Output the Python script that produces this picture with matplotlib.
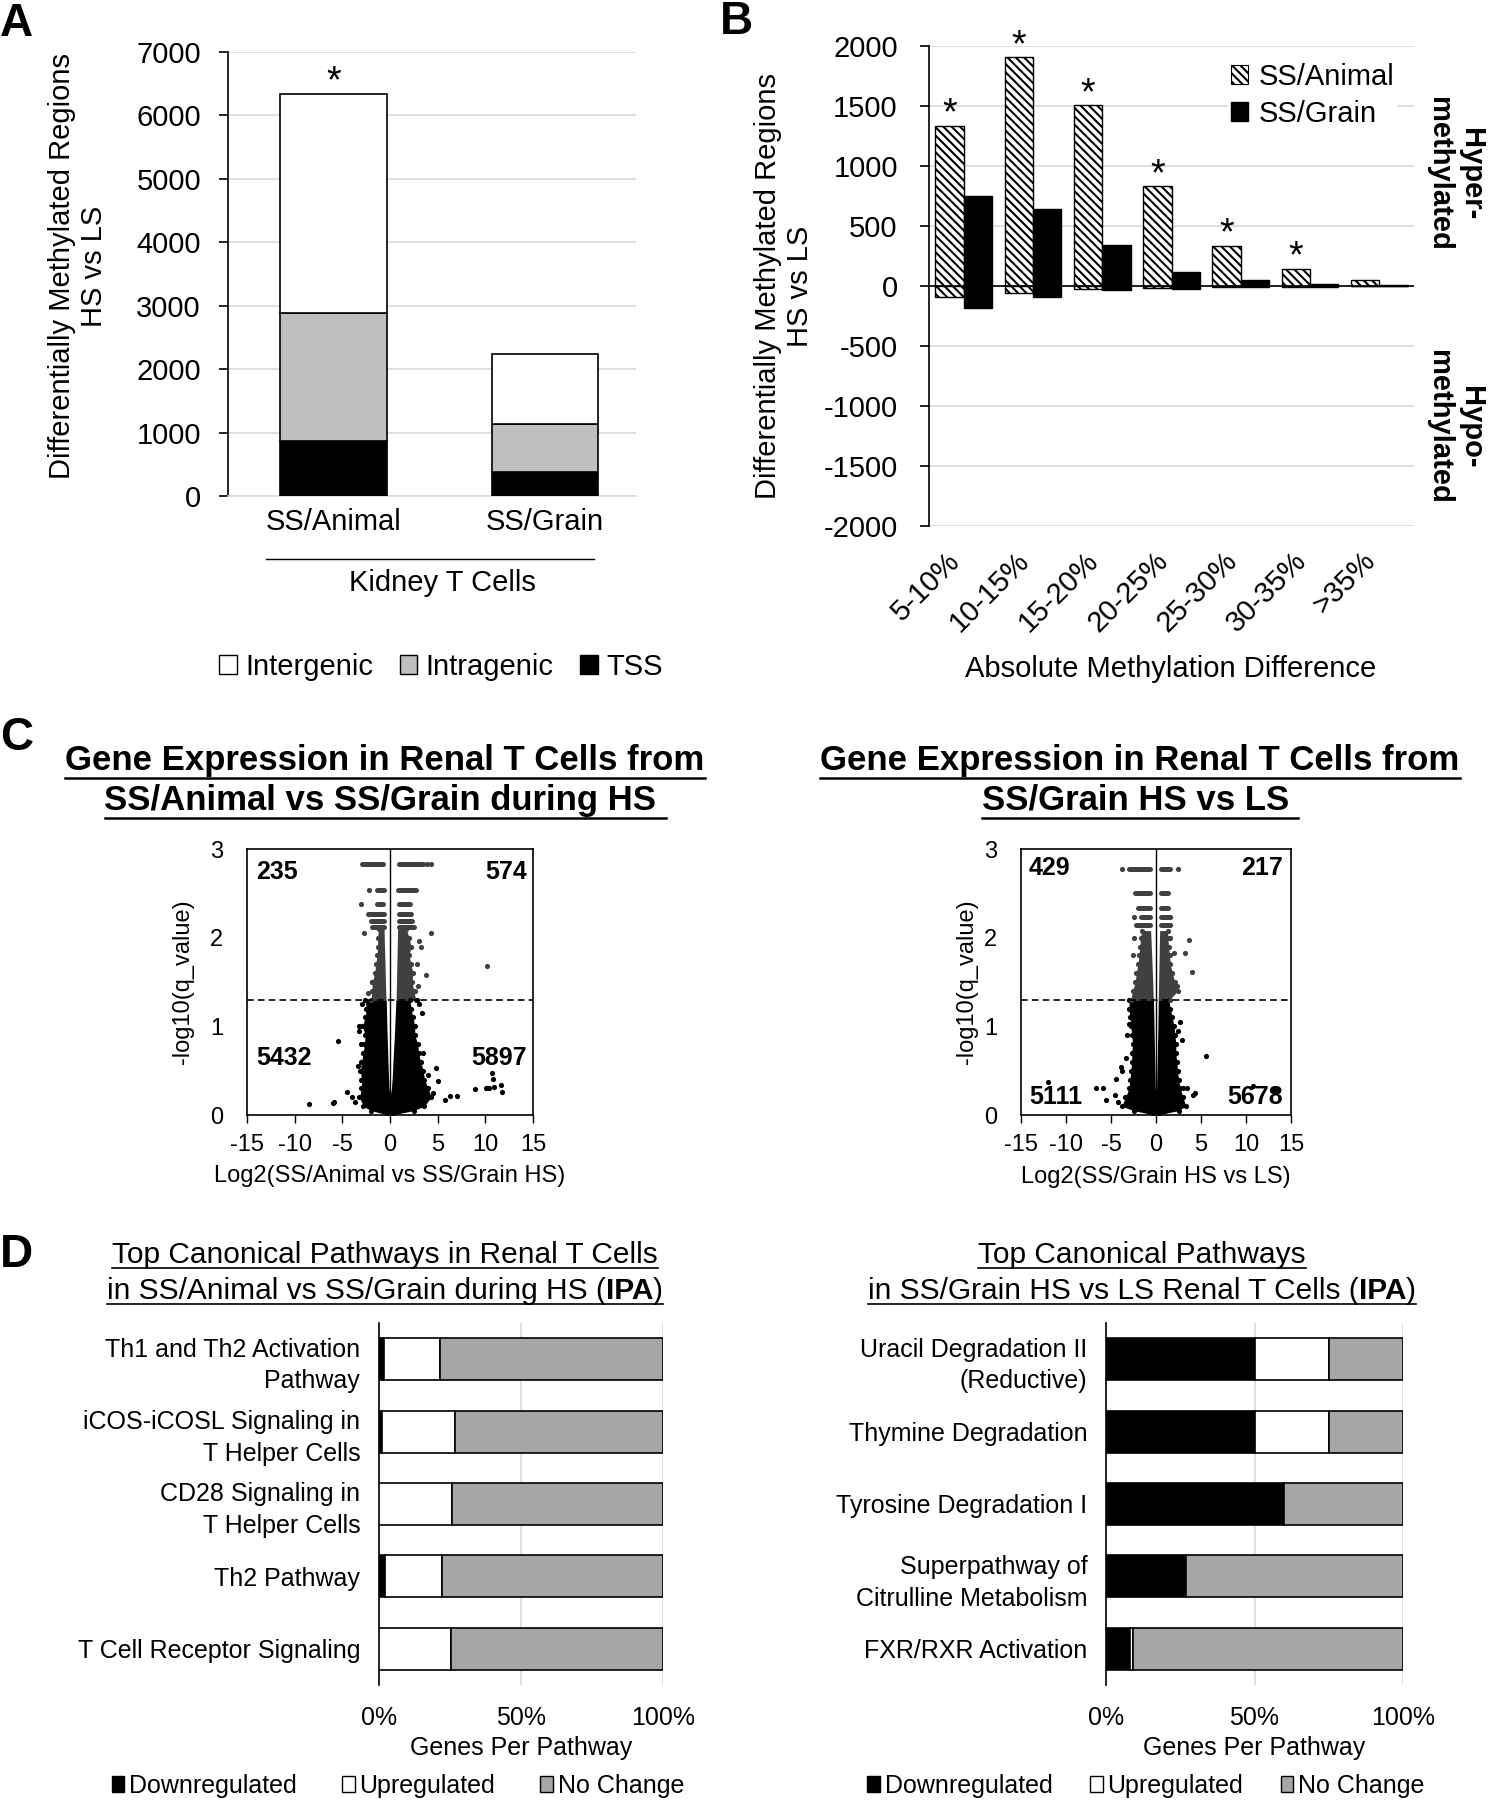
import matplotlib
matplotlib.use('Agg')
import matplotlib.pyplot as plt
from matplotlib.patches import Patch
from matplotlib.lines import Line2D
from matplotlib.transforms import ScaledTranslation
import numpy as np

plt.rcParams['font.family'] = ['Liberation Sans', 'DejaVu Sans']
plt.rcParams['axes.unicode_minus'] = False
plt.rcParams['hatch.linewidth'] = 1.5

# ---------------- data ----------------
# Panel A
a_groups = ['SS/Animal', 'SS/Grain']
a_tss = [860, 380]
a_intragenic = [2020, 750]
a_intergenic = [3465, 1105]
a_sig = [True, False]
a_legend = ['Intergenic', 'Intragenic', 'TSS']

# Panel B
b_bins = ['5-10%', '10-15%', '15-20%', '20-25%', '25-30%', '30-35%', '>35%']
b_animal_hyper = [1337, 1908, 1506, 833, 337, 143, 46]
b_animal_hypo = [-95, -60, -22, -19, -8, -5, -3]
b_grain_hyper = [746, 644, 344, 117, 47, 20, 6]
b_grain_hypo = [-183, -89, -36, -25, -11, -7, -3]
b_sig = [True, True, True, True, True, True, False]

# Panel C, volcano 1 (SS/Animal vs SS/Grain HS)
v1_counts = ['235', '574', '5432', '5897']
v1_black_y = [0.0, 0.05, 0.1, 0.2, 0.3, 0.4, 0.5, 0.6, 0.7, 0.8, 0.9, 1.0, 1.1, 1.2, 1.3]
v1_black_left = [-0.2, -2.0, -2.8, -3.2, -3.0, -3.0, -3.1, -3.0, -2.8, -2.7, -2.6, -2.9, -2.6, -2.5, -2.6]
v1_black_linner = [0.0, 0.0, 0.0, 0.0, -0.1, -0.15, -0.18, -0.21, -0.24, -0.27, -0.3, -0.33, -0.35, -0.37, -0.4]
v1_black_rinner = [0.0, 0.0, 0.0, 0.0, 0.15, 0.22, 0.27, 0.31, 0.36, 0.41, 0.46, 0.5, 0.54, 0.58, 0.62]
v1_black_right = [0.2, 2.5, 3.6, 4.3, 4.0, 3.6, 3.5, 3.2, 3.0, 2.9, 2.6, 2.6, 2.4, 2.2, 2.1]
v1_gray_y = [1.3, 1.4, 1.5, 1.6, 1.7, 1.8, 1.9, 2.0, 2.1]
v1_gray_left = [-2.0, -1.9, -1.85, -1.6, -1.5, -1.35, -1.3, -1.3, -1.2]
v1_gray_linner = [-0.42, -0.45, -0.48, -0.5, -0.52, -0.55, -0.58, -0.6, -0.62]
v1_gray_rinner = [0.64, 0.66, 0.68, 0.7, 0.72, 0.74, 0.76, 0.78, 0.8]
v1_gray_right = [2.7, 2.5, 2.3, 2.4, 2.2, 2.0, 2.2, 2.0, 1.7]
v1_rows_y = [2.83, 2.83, 2.54, 2.54, 2.38, 2.38, 2.27, 2.27, 2.19, 2.19, 2.12, 2.12]
v1_rows_x0 = [-2.9, 0.9, -1.35, 0.85, -1.4, 0.9, -2.3, 0.9, -2.0, 0.9, -1.9, 0.9]
v1_rows_x1 = [-0.75, 3.2, -0.65, 2.7, -0.7, 2.1, -0.65, 2.2, -0.65, 2.3, -0.65, 2.5]
v1_gray_px = [3.5, 3.9, 4.25, -2.2, -3.08, -2.7, 3.0, 4.27, 3.74, 2.97, 10.2, 3.2, -1.9, -2.3, 2.8, 2.6]
v1_gray_py = [2.83, 2.83, 2.83, 2.54, 2.38, 2.05, 1.96, 2.05, 1.58, 1.46, 1.68, 1.9, 1.5, 1.38, 1.7, 1.4]
v1_black_px = [-5.5, -8.5, -5.9, -6.0, -4.5, -3.7, -3.3, -3.0, -3.4, -4.0, 4.8, 5.0, 5.8, 6.3, 7.0, 8.9,
               10.1, 10.7, 10.8, 10.9, 11.6, 11.8, 10.4, 3.4, 3.0, 4.0, 4.5, -2.9, -3.2, 3.5, 2.8]
v1_black_py = [0.84, 0.12, 0.15, 0.13, 0.26, 0.15, 0.95, 0.8, 0.55, 0.2, 0.53, 0.38, 0.17, 0.21, 0.21, 0.29,
               0.31, 0.47, 0.41, 0.32, 0.34, 0.26, 0.30, 1.15, 1.25, 0.45, 0.25, 1.25, 1.0, 0.7, 1.3]

# Panel C, volcano 2 (SS/Grain HS vs LS)
v2_counts = ['429', '217', '5111', '5678']
v2_black_y = [0.0, 0.05, 0.1, 0.2, 0.3, 0.4, 0.5, 0.6, 0.7, 0.8, 0.9, 1.0, 1.1, 1.2, 1.3]
v2_black_left = [-0.2, -2.5, -3.8, -3.4, -3.0, -2.9, -2.8, -2.7, -2.7, -2.6, -2.7, -2.8, -2.9, -3.0, -3.0]
v2_black_linner = [0.0, 0.0, 0.0, 0.0, -0.08, -0.1, -0.12, -0.14, -0.16, -0.18, -0.2, -0.22, -0.24, -0.26, -0.28]
v2_black_rinner = [0.0, 0.0, 0.0, 0.0, 0.07, 0.09, 0.11, 0.13, 0.15, 0.17, 0.19, 0.21, 0.22, 0.24, 0.25]
v2_black_right = [0.2, 2.5, 3.3, 3.0, 2.7, 2.5, 2.4, 2.3, 2.2, 2.2, 2.1, 2.0, 1.8, 1.6, 1.4]
v2_gray_y = [1.3, 1.4, 1.5, 1.6, 1.7, 1.8, 1.9, 2.0, 2.08]
v2_gray_left = [-2.8, -2.6, -2.3, -2.2, -2.0, -1.9, -1.8, -1.7, -1.6]
v2_gray_linner = [-0.3, -0.33, -0.36, -0.4, -0.44, -0.48, -0.52, -0.56, -0.6]
v2_gray_rinner = [0.25, 0.27, 0.29, 0.31, 0.33, 0.35, 0.37, 0.39, 0.4]
v2_gray_right = [1.5, 2.4, 2.1, 1.8, 1.6, 1.5, 1.4, 1.3, 1.3]
v2_rows_y = [2.77, 2.77, 2.50, 2.50, 2.33, 2.33, 2.23, 2.23, 2.14, 2.14]
v2_rows_x0 = [-2.96, 0.56, -2.3, 0.56, -2.0, 0.56, -1.67, 0.56, -2.2, 0.56]
v2_rows_x1 = [-0.67, 1.56, -0.67, 1.3, -0.67, 1.3, -0.67, 1.3, -0.67, 1.3]
v2_gray_px = [-3.8, 2.4, -2.4, 1.55, 1.55, 3.7, 3.26, 2.04, 3.96, 2.3, -2.6, -2.5, 1.6]
v2_gray_py = [2.77, 2.77, 2.23, 2.23, 2.14, 1.97, 1.83, 1.83, 1.61, 1.45, 1.8, 2.0, 2.0]
v2_black_px = [-12.0, -6.7, -5.85, -5.55, -4.6, -4.45, -3.9, -3.75, -3.3, -3.2, -3.0, -4.2, 5.56, 10.8,
               13.2, 4.3, 4.1, 3.4, 2.4, 2.9, 2.7, 3.0]
v2_black_py = [0.37, 0.30, 0.30, 0.17, 0.22, 0.41, 0.54, 0.5, 0.64, 0.9, 1.03, 0.15, 0.67, 0.33,
               0.28, 0.25, 0.22, 0.3, 0.95, 0.85, 1.05, 0.3]

# Panel D
d1_pathways = ['Th1 and Th2 Activation\nPathway', 'iCOS-iCOSL Signaling in\nT Helper Cells',
               'CD28 Signaling in\nT Helper Cells', 'Th2 Pathway', 'T Cell Receptor Signaling']
d1_down = [1.9, 0.9, 0.0, 2.1, 0.0]
d1_up = [19.7, 25.9, 25.6, 20.0, 25.3]
d1_nochange = [78.4, 73.2, 74.4, 77.9, 74.7]
d2_pathways = ['Uracil Degradation II\n(Reductive)', 'Thymine Degradation', 'Tyrosine Degradation I',
               'Superpathway of\nCitrulline Metabolism', 'FXR/RXR Activation']
d2_down = [50.0, 50.0, 60.0, 27.0, 8.2]
d2_up = [25.0, 25.0, 0.0, 0.0, 0.8]
d2_nochange = [25.0, 25.0, 40.0, 73.0, 91.0]
d_legend = ['Downregulated', 'Upregulated', 'No Change']
d_xticks = [0, 50, 100]
d_xticklabels = ['0%', '50%', '100%']

# ---------------- figure ----------------
W, H = 1491, 1800
fig = plt.figure(figsize=(W / 100, H / 100), dpi=100)
GRID = '#d9d9d9'
GRAYPT = '#404040'


def fx(px):
    return px / W


def fy(py):
    return 1 - py / H


def axes_px(x0, y0, x1, y1):
    return fig.add_axes([fx(x0), fy(y1), (x1 - x0) / W, (y1 - y0) / H])


def hline_px(x0, x1, y, lw=1.0):
    fig.add_artist(Line2D([fx(x0), fx(x1)], [fy(y), fy(y)], transform=fig.transFigure,
                          color='black', lw=lw))


def centered_runs(xc, y_base, runs, size, ul_off, ul_lw, extra_right=0.0):
    r = fig.canvas.get_renderer()
    texts, widths = [], []
    for s, wgt in runs:
        t = fig.text(0, fy(y_base), s, fontsize=size, fontweight=wgt, ha='left', va='baseline')
        texts.append(t)
        widths.append(t.get_window_extent(renderer=r).width)
    total = sum(widths)
    x = xc - (total + extra_right) / 2
    x_start = x
    for t, w in zip(texts, widths):
        t.set_x(fx(x))
        x += w
    hline_px(x_start, x + extra_right, y_base + ul_off, lw=ul_lw)


# ---------------- Panel A ----------------
axA = axes_px(228, 52, 636, 496)
xa = np.arange(len(a_groups))
bw = 0.505
tss = np.array(a_tss)
intra = np.array(a_intragenic)
inter = np.array(a_intergenic)
axA.bar(xa, tss, bw, color='black', edgecolor='black', lw=1.2, zorder=3)
axA.bar(xa, intra, bw, bottom=tss, color='#bfbfbf', edgecolor='black', lw=1.2, zorder=3)
axA.bar(xa, inter, bw, bottom=tss + intra, color='white', edgecolor='black', lw=1.2, zorder=3)
axA.set_xlim(-0.5, 1.43)
axA.set_ylim(0, 7000)
axA.set_yticks(np.arange(0, 7001, 1000))
axA.yaxis.grid(True, color=GRID, lw=1.2, zorder=0)
axA.set_axisbelow(True)
for s in ['top', 'right']:
    axA.spines[s].set_visible(False)
axA.spines['bottom'].set_color(GRID)
axA.spines['bottom'].set_linewidth(1.2)
axA.spines['left'].set_linewidth(1.2)
axA.set_xticks(xa)
axA.set_xticklabels(a_groups)
axA.tick_params(axis='x', length=0, pad=9, labelsize=21)
axA.tick_params(axis='y', length=6.5, width=1.2, pad=13, labelsize=21)
totals = tss + intra + inter
for i, sig in enumerate(a_sig):
    if sig:
        axA.text(xa[i], totals[i] + 20, '*', ha='center', va='baseline', fontsize=27)
axA.set_ylabel('Differentially Methylated Regions\nHS vs LS', fontsize=21, va='center', ha='center')
axA.yaxis.set_label_coords(-0.368, 0.518)
hline_px(266, 594, 559, lw=1.0)
fig.text(fx(442), fy(583), 'Kidney T Cells', fontsize=21, ha='center', va='center')
fig.legend(handles=[Patch(fc='white', ec='black', lw=1), Patch(fc='#bfbfbf', ec='black', lw=1),
                    Patch(fc='black', ec='black', lw=1)],
           labels=a_legend, loc='center', bbox_to_anchor=(fx(441), fy(667)), ncol=3, frameon=False,
           fontsize=21, handlelength=0.6, handleheight=0.6, handletextpad=0.3, columnspacing=0.9)

# ---------------- Panel B ----------------
axB = axes_px(929, 46, 1414, 526)
xb = np.arange(len(b_bins))
bwb = 0.41
HATCH = '\\\\\\\\'
axB.bar(xb - bwb / 2, b_animal_hyper, bwb, color='white', edgecolor='black', hatch=HATCH, lw=1.0, zorder=3)
axB.bar(xb - bwb / 2, b_animal_hypo, bwb, color='white', edgecolor='black', hatch=HATCH, lw=1.0, zorder=3)
axB.bar(xb + bwb / 2, b_grain_hyper, bwb, color='black', edgecolor='black', lw=1.0, zorder=3)
axB.bar(xb + bwb / 2, b_grain_hypo, bwb, color='black', edgecolor='black', lw=1.0, zorder=3)
axB.axhline(0, color='black', lw=1.2, zorder=4)
axB.set_xlim(-0.5, len(b_bins) - 0.5)
axB.set_ylim(-2000, 2000)
axB.set_yticks(np.arange(-2000, 2001, 500))
axB.yaxis.grid(True, color=GRID, lw=1.2, zorder=0)
axB.set_axisbelow(True)
for s in ['top', 'right', 'bottom']:
    axB.spines[s].set_visible(False)
axB.spines['left'].set_linewidth(1.2)
axB.tick_params(axis='y', length=6.5, width=1.2, pad=16, labelsize=21)
axB.set_xticks(xb)
axB.set_xticklabels(b_bins, rotation=45, ha='right', va='center', rotation_mode='anchor')
axB.tick_params(axis='x', length=0, pad=22, labelsize=21)
for lbl in axB.get_xticklabels():
    lbl.set_transform(lbl.get_transform() + ScaledTranslation(-8 / 100, 0, fig.dpi_scale_trans))
for i, sig in enumerate(b_sig):
    if sig:
        axB.text(xb[i] - bwb / 2, b_animal_hyper[i] + 10, '*', ha='center', va='baseline', fontsize=27)
axB.set_ylabel('Differentially Methylated Regions\nHS vs LS', fontsize=21, va='center', ha='center')
axB.yaxis.set_label_coords(-0.299, 0.5)
axB.set_xlabel('Absolute Methylation Difference', fontsize=21, va='center')
axB.xaxis.set_label_coords(0.499, -0.298)
legB = axB.legend(handles=[Patch(fc='white', ec='black', hatch=HATCH, lw=0.8), Patch(fc='black', ec='black')],
                  labels=['SS/Animal', 'SS/Grain'], loc='upper left',
                  bbox_to_anchor=((1228 - 929) / 485, (526 - 60) / 480), fontsize=21,
                  handlelength=0.6, handleheight=0.6, handletextpad=0.35, labelspacing=0.3,
                  borderpad=0.1, borderaxespad=0, frameon=True, fancybox=False)
legB.get_frame().set_facecolor('white')
legB.get_frame().set_edgecolor('none')
legB.get_frame().set_alpha(1)
fig.text(fx(1455), fy(174), 'Hyper-\nmethylated', rotation=-90, fontsize=21, fontweight='bold',
         ha='center', va='center', multialignment='center')
fig.text(fx(1455), fy(427), 'Hypo-\nmethylated', rotation=-90, fontsize=21, fontweight='bold',
         ha='center', va='center', multialignment='center')


# ---------------- Panel C ----------------
def volcano(ax, by, bl, bli, bri, br, gy, gl, gli, gri, gr, ry, rx0, rx1, gpx, gpy, bpx, bpy,
            counts, cpos, xlabel, ylab_x, xlab_y):
    ax.fill_betweenx(by, bl, bli, color='black', lw=0, zorder=2)
    ax.fill_betweenx(by, bri, br, color='black', lw=0, zorder=2)
    ax.fill_betweenx(gy, gl, gli, color=GRAYPT, lw=0, zorder=2)
    ax.fill_betweenx(gy, gri, gr, color=GRAYPT, lw=0, zorder=2)
    ax.scatter(bl, by, s=14, color='black', lw=0, zorder=2)
    ax.scatter(br, by, s=14, color='black', lw=0, zorder=2)
    ax.scatter(gl, gy, s=14, color=GRAYPT, lw=0, zorder=2)
    ax.scatter(gr, gy, s=14, color=GRAYPT, lw=0, zorder=2)
    for y, a, b in zip(ry, rx0, rx1):
        ax.plot([a, b], [y, y], color=GRAYPT, lw=3.6, solid_capstyle='round', zorder=2)
    ax.scatter(gpx, gpy, s=14, color=GRAYPT, lw=0, zorder=2)
    ax.scatter(bpx, bpy, s=14, color='black', lw=0, zorder=2)
    ax.axvline(0, color='black', lw=1.0, zorder=3)
    ax.axhline(-np.log10(0.05), color='black', lw=1.2, ls=(0, (4, 2.5)), zorder=3)
    ax.set_xlim(-15, 15)
    ax.set_ylim(0, 3)
    ax.set_xticks(np.arange(-15, 16, 5))
    ax.set_yticks([0, 1, 2, 3])
    for s in ax.spines.values():
        s.set_linewidth(1.2)
    ax.tick_params(axis='x', length=6, width=1.0, pad=8, labelsize=17)
    ax.tick_params(axis='y', length=0, pad=17, labelsize=17)
    for txt, (px, py, ha) in zip(counts, cpos):
        ax.text(px, py, txt, transform=ax.transAxes, fontsize=18, fontweight='bold', ha=ha, va='center')
    ax.set_xlabel(xlabel, fontsize=17, va='center')
    ax.xaxis.set_label_coords(0.5, xlab_y)
    ax.set_ylabel('-log10(q_value)', fontsize=17, va='center', ha='center')
    ax.yaxis.set_label_coords(ylab_x, 0.5)


axV1 = axes_px(247, 849, 533, 1115)
volcano(axV1, v1_black_y, v1_black_left, v1_black_linner, v1_black_rinner, v1_black_right,
        v1_gray_y, v1_gray_left, v1_gray_linner, v1_gray_rinner, v1_gray_right,
        v1_rows_y, v1_rows_x0, v1_rows_x1, v1_gray_px, v1_gray_py, v1_black_px, v1_black_py,
        v1_counts, [(0.031, 0.914, 'left'), (0.979, 0.914, 'right'), (0.031, 0.214, 'left'), (0.979, 0.214, 'right')],
        'Log2(SS/Animal vs SS/Grain HS)', -0.224, -0.228)

axV2 = axes_px(1021, 849, 1291, 1115)
volcano(axV2, v2_black_y, v2_black_left, v2_black_linner, v2_black_rinner, v2_black_right,
        v2_gray_y, v2_gray_left, v2_gray_linner, v2_gray_rinner, v2_gray_right,
        v2_rows_y, v2_rows_x0, v2_rows_x1, v2_gray_px, v2_gray_py, v2_black_px, v2_black_py,
        v2_counts, [(0.03, 0.929, 'left'), (0.97, 0.929, 'right'), (0.03, 0.068, 'left'), (0.97, 0.068, 'right')],
        'Log2(SS/Grain HS vs LS)', -0.2, -0.233)

centered_runs(385, 770, [('Gene Expression in Renal T Cells from', 'bold')], 25, 8, 1.8)
centered_runs(385, 810, [('SS/Animal vs SS/Grain during HS', 'bold')], 25, 8, 1.8, extra_right=9)
centered_runs(1140, 770, [('Gene Expression in Renal T Cells from', 'bold')], 25, 8, 1.8)
centered_runs(1140, 810, [('SS/Grain HS vs LS', 'bold')], 25, 8, 1.8, extra_right=9)


# ---------------- Panel D ----------------
def pathway_bars(ax, names, down, up, nochange):
    yy = np.arange(len(names))
    down = np.array(down)
    up = np.array(up)
    nochange = np.array(nochange)
    h = 0.58
    ax.barh(yy, down, h, color='black', edgecolor='black', lw=1.2, zorder=3)
    ax.barh(yy, up, h, left=down, color='white', edgecolor='black', lw=1.2, zorder=3)
    ax.barh(yy, nochange, h, left=down + up, color='#a6a6a6', edgecolor='black', lw=1.2, zorder=3)
    ax.set_ylim(len(names) - 0.5, -0.5)
    ax.set_xlim(0, 100)
    ax.set_yticks(yy)
    ax.set_yticklabels(names)
    for lbl in ax.get_yticklabels():
        lbl.set_linespacing(1.4)
    ax.set_xticks(d_xticks)
    ax.set_xticklabels(d_xticklabels)
    ax.xaxis.grid(True, color=GRID, lw=1.2, zorder=0)
    ax.set_axisbelow(True)
    for s in ['top', 'right', 'bottom']:
        ax.spines[s].set_visible(False)
    ax.spines['left'].set_linewidth(1.2)
    ax.tick_params(axis='y', length=0, pad=13.5, labelsize=18)
    ax.tick_params(axis='x', length=0, pad=15, labelsize=18)
    ax.set_xlabel('Genes Per Pathway', fontsize=18, va='center')
    ax.xaxis.set_label_coords(0.5, -0.174)


axD1 = axes_px(379, 1323, 663, 1685)
pathway_bars(axD1, d1_pathways, d1_down, d1_up, d1_nochange)
axD2 = axes_px(1106, 1323, 1403, 1685)
pathway_bars(axD2, d2_pathways, d2_down, d2_up, d2_nochange)

centered_runs(385, 1263, [('Top Canonical Pathways in Renal T Cells', 'normal')], 21.5, 5, 1.2)
centered_runs(385, 1299, [('in SS/Animal vs SS/Grain during HS (', 'normal'), ('IPA', 'bold'), (')', 'normal')],
              21.5, 5, 1.2)
centered_runs(1142, 1263, [('Top Canonical Pathways', 'normal')], 21.5, 5, 1.2)
centered_runs(1142, 1299, [('in SS/Grain HS vs LS Renal T Cells (', 'normal'), ('IPA', 'bold'), (')', 'normal')],
              21.5, 5, 1.2)

d_handles = [Patch(fc='black', ec='black', lw=1), Patch(fc='white', ec='black', lw=1),
             Patch(fc='#a6a6a6', ec='black', lw=1)]
fig.legend(handles=d_handles, labels=d_legend, loc='center', bbox_to_anchor=(fx(398), fy(1786)), ncol=3,
           frameon=False, fontsize=18, handlelength=0.5, handleheight=0.6, handletextpad=0.2, columnspacing=1.8)
fig.legend(handles=d_handles, labels=d_legend, loc='center', bbox_to_anchor=(fx(1146), fy(1786)), ncol=3,
           frameon=False, fontsize=18, handlelength=0.5, handleheight=0.6, handletextpad=0.2, columnspacing=1.5)

# ---------------- panel letters ----------------
for letter, (px, py) in zip(['A', 'B', 'C', 'D'], [(0, 2), (720, 0), (0, 716), (0, 1233)]):
    fig.text(fx(px), fy(py), letter, fontsize=33, fontweight='bold', ha='left', va='top')

fig.savefig('out.png', dpi=100)
